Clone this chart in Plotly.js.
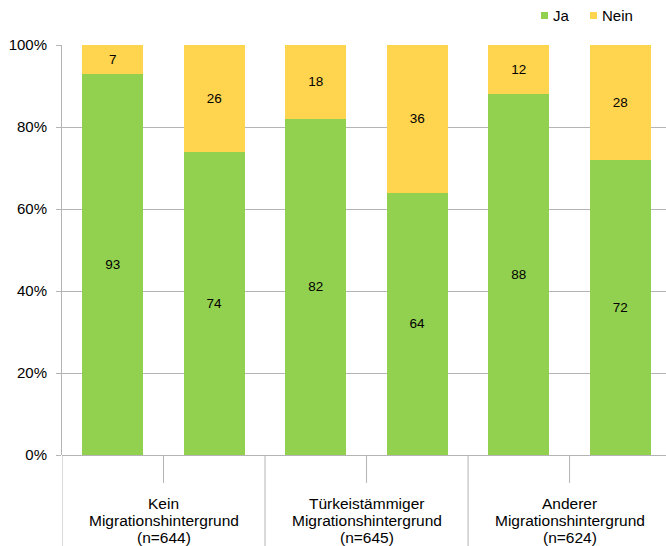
<!DOCTYPE html>
<html>
<head>
<meta charset="utf-8">
<script src="https://cdn.plot.ly/plotly-3.0.1.min.js"></script>
<style>
  html, body { margin: 0; padding: 0; background: #fff; }
  #chart { width: 666px; height: 546px; }
</style>
</head>
<body>
<div id="chart"></div>
<script>
// Survey answers per group and sub-sample (shares in percent)
const groups = [
  ["Kein", "Migrationshintergrund", "(n=644)"],
  ["Türkeistämmiger", "Migrationshintergrund", "(n=645)"],
  ["Anderer", "Migrationshintergrund", "(n=624)"]
];
const barsPerGroup = 2;
const seriesNames = ["Ja", "Nein"];
const jaValues = [93, 74, 82, 64, 88, 72];
const neinValues = [7, 26, 18, 36, 12, 28];
const yTickValues = [0, 20, 40, 60, 80, 100];
const yTickLabels = ["0%", "20%", "40%", "60%", "80%", "100%"];

const colors = { Ja: "#92D050", Nein: "#FFD44F" };
const grid = "#B4B4B4";
const font = "Liberation Sans, Arial, sans-serif";

const xPos = jaValues.map((_, i) => i);

function barTrace(name, values) {
  return {
    type: "bar",
    name: name,
    x: xPos,
    y: values,
    width: 0.6,
    marker: { color: colors[name], line: { width: 0 } },
    text: values.map(String),
    textposition: "inside",
    insidetextanchor: "middle",
    textangle: 0,
    constraintext: "none",
    textfont: { family: font, size: 13.5, color: "#000" },
    hoverinfo: "skip",
    showlegend: false
  };
}

const data = [barTrace(seriesNames[0], jaValues), barTrace(seriesNames[1], neinValues)];

const plotH = 410;
const plotW = 604;
const shapes = [];
const annotations = [];

// Group separators (long) and in-group dividers (short) below the axis
for (let g = 0; g <= groups.length; g++) {
  const xb = g * barsPerGroup - 0.5;
  shapes.push({ type: "line", xref: "x", yref: "paper", x0: xb, x1: xb,
    y0: 0, y1: -91 / plotH, line: { color: grid, width: 1 } });
}
const lineOffsets = [48, 65, 82]; // px below the axis, one per label line
groups.forEach((lines, g) => {
  for (let k = 1; k < barsPerGroup; k++) {
    const xb = g * barsPerGroup + k - 0.5;
    shapes.push({ type: "line", xref: "x", yref: "paper", x0: xb, x1: xb,
      y0: 0, y1: -28 / plotH, line: { color: grid, width: 1 } });
  }
  lines.forEach((txt, j) => {
    annotations.push({
      xref: "x", yref: "paper",
      x: g * barsPerGroup + (barsPerGroup - 1) / 2,
      y: -lineOffsets[j] / plotH, yanchor: "middle", xanchor: "center",
      text: txt, showarrow: false,
      font: { family: font, size: 15.5, color: "#000" }
    });
  });
});

// Legend drawn as small squares with labels
const legendItems = [
  { name: seriesNames[0], sx: 541, tx: 551 },
  { name: seriesNames[1], sx: 590, tx: 600 }
];
legendItems.forEach(it => {
  shapes.push({ type: "rect", xref: "paper", yref: "paper",
    x0: (it.sx - 62) / plotW, x1: (it.sx + 7 - 62) / plotW,
    y0: (546 - 91 - 19) / plotH, y1: (546 - 91 - 12) / plotH,
    fillcolor: colors[it.name], line: { width: 0 } });
  annotations.push({ xref: "paper", yref: "paper",
    x: (it.tx - 62) / plotW, y: (546 - 91 - 15.5) / plotH,
    xanchor: "left", yanchor: "middle", text: it.name, showarrow: false,
    font: { family: font, size: 15, color: "#000" } });
});

const layout = {
  width: 666,
  height: 546,
  margin: { l: 62, r: 0, t: 45, b: 91 },
  paper_bgcolor: "#fff",
  plot_bgcolor: "#fff",
  barmode: "stack",
  showlegend: false,
  font: { family: font, size: 13, color: "#000" },
  xaxis: {
    range: [-0.5, 5.45],
    showticklabels: false,
    ticks: "",
    showgrid: false,
    zeroline: false,
    showline: false,
    fixedrange: true
  },
  yaxis: {
    range: [0, 100],
    tickvals: yTickValues,
    ticktext: yTickLabels,
    ticks: "outside",
    ticklen: 5,
    tickcolor: grid,
    ticklabelstandoff: 6,
    showgrid: true,
    gridcolor: grid,
    gridwidth: 1,
    showline: true,
    linecolor: grid,
    zeroline: true,
    zerolinecolor: grid,
    tickfont: { family: font, size: 15, color: "#000" },
    fixedrange: true
  },
  shapes: shapes,
  annotations: annotations
};

Plotly.newPlot("chart", data, layout, { displayModeBar: false, staticPlot: true });
</script>
</body>
</html>
